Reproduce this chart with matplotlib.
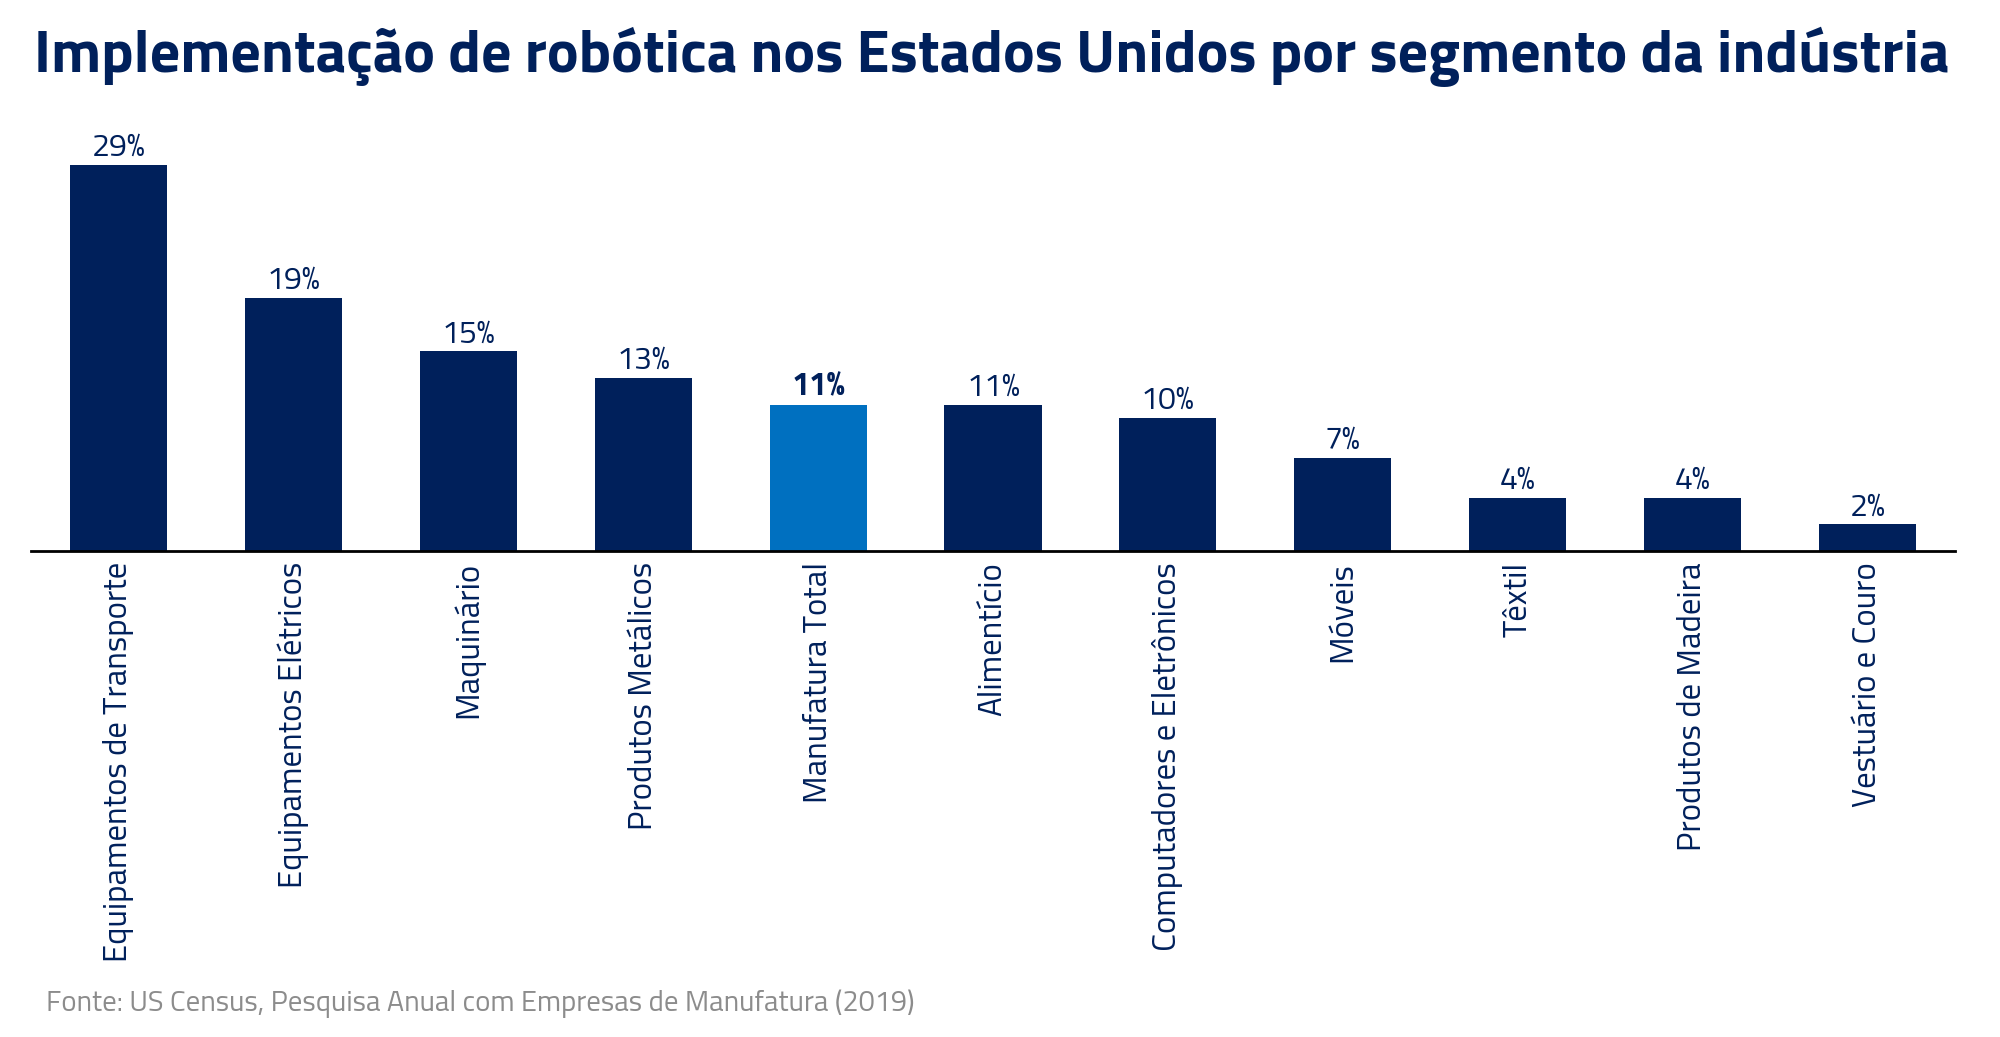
import matplotlib
matplotlib.use("Agg")
import matplotlib.pyplot as plt

# ── Data ─────────────────────────────────────────────────────────────
categories = [
    "Equipamentos de Transporte",
    "Equipamentos Elétricos",
    "Maquinário",
    "Produtos Metálicos",
    "Manufatura Total",
    "Alimentício",
    "Computadores e Eletrônicos",
    "Móveis",
    "Têxtil",
    "Produtos de Madeira",
    "Vestuário e Couro",
]
values = [29, 19, 15, 13, 11, 11, 10, 7, 4, 4, 2]
highlight = "Manufatura Total"

title = "Implementação de robótica nos Estados Unidos por segmento da indústria"
source = "Fonte: US Census, Pesquisa Anual com Empresas de Manufatura (2019)"

# ── Style ────────────────────────────────────────────────────────────
NAVY = "#00205B"
BLUE = "#0070C0"
GREY = "#8C8C8C"
FONT = ["Titillium Web", "DejaVu Sans"]

fig = plt.figure(figsize=(20, 10.37), dpi=100)
ax = fig.add_axes([0.0155, 0.4687, 0.962, 0.385])

x = range(len(categories))
colors = [BLUE if c == highlight else NAVY for c in categories]
bars = ax.bar(x, values, width=0.555, color=colors, zorder=2)

# value labels on top of each bar (highlighted bar in bold)
for i, (b, v) in enumerate(zip(bars, values)):
    bold = categories[i] == highlight
    ax.text(b.get_x() + b.get_width() / 2, v + 0.15, f"{v}%",
            ha="center", va="bottom", fontsize=23, color=NAVY,
            fontweight="bold" if bold else "normal", family=FONT)

ax.set_xlim(-0.5, 10.5)
ax.set_ylim(0, 30)
ax.set_xticks(list(x))
ax.set_xticklabels(categories, rotation=90, fontsize=23.7, color=NAVY,
                   family=FONT, va="top", ha="center")
ax.tick_params(axis="x", length=0, pad=8)
ax.set_yticks([])
for side in ("left", "right", "top"):
    ax.spines[side].set_visible(False)
ax.spines["bottom"].set_linewidth(2)
ax.spines["bottom"].set_color("black")

fig.text(0.496, 0.931, title, ha="center", va="baseline", fontsize=43,
         fontweight="bold", color=NAVY, family=FONT)
fig.text(0.023, 0.032, source, ha="left", va="center", fontsize=20.8,
         color=GREY, family=FONT)

fig.savefig("out.png", dpi=100, facecolor="white")
